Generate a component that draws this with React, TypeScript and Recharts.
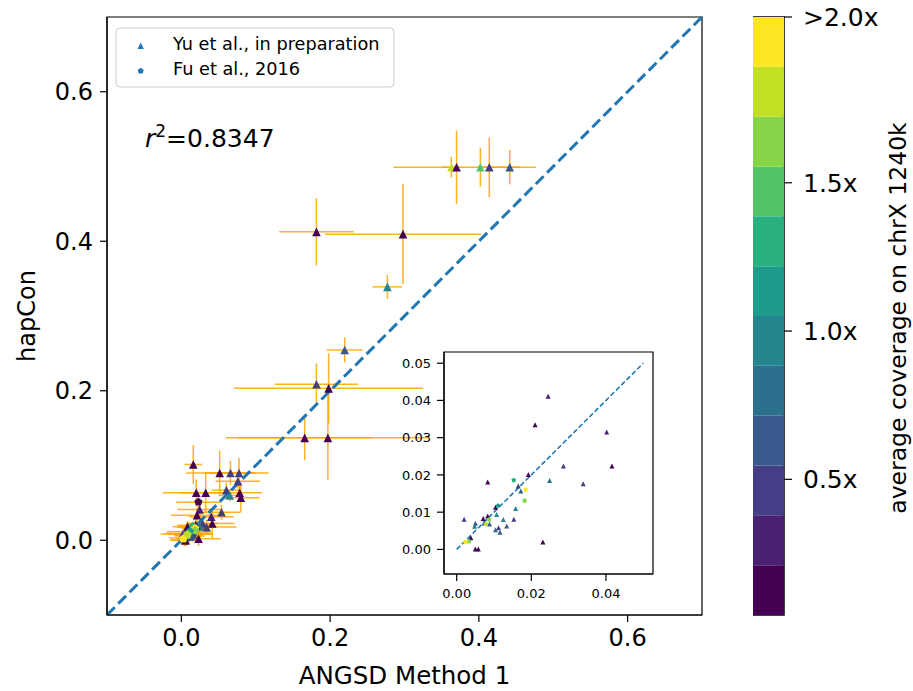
import React from 'react';
import {
  ScatterChart, Scatter, XAxis, YAxis, ErrorBar, ReferenceLine, ReferenceArea,
  BarChart, Bar,
} from 'recharts';

const FONT = 'DejaVu Sans';

// ---------- data ----------
const sampleX = [
  0.363, 0.370, 0.402, 0.414, 0.4415, 0.1816, 0.298, 0.277, 0.2196, 0.1816, 0.198, 0.1658, 0.197,
  0.016, 0.0515, 0.066, 0.0775, 0.076, 0.0605, 0.065, 0.0784, 0.080, 0.020, 0.0327, 0.0229, 0.054,
  0.0245, 0.021, 0.0402, 0.0286, 0.0416, 0.0339, 0.0249, 0.0192, 0.0083, 0.0153, 0.0165, 0.0172, 0.0185,
  0.0182, 0.0158, 0.0111, 0.0104, 0.0107, 0.0125, 0.0153, 0.0071, 0.0083, 0.0087, 0.0020, 0.0050, 0.0048,
  0.0073, 0.0078, 0.0088, 0.0104, 0.0112, 0.0116, 0.0134, 0.0038, 0.0033, 0.0023, 0.0050, 0.0058, 0.0231,
];
const sampleY = [
  0.499, 0.499, 0.499, 0.499, 0.499, 0.4126, 0.4095, 0.339, 0.2546, 0.2086, 0.2032, 0.137, 0.137,
  0.1014, 0.090, 0.090, 0.090, 0.079, 0.067, 0.060, 0.0635, 0.057, 0.0635, 0.0635, 0.051, 0.0375,
  0.0411, 0.0335, 0.0315, 0.0224, 0.0224, 0.0176, 0.0185, 0.0201, 0.0181, 0.0186, 0.0170, 0.0157, 0.0160,
  0.0131, 0.0110, 0.0117, 0.0113, 0.0094, 0.0080, 0.0081, 0.0083, 0.0090, 0.0080, 0.0081, 0.0070, 0.0062,
  0.0071, 0.0068, 0.0068, 0.0053, 0.0058, 0.0046, 0.0063, 0.0031, 0.0021, 0.0020, 0.0001, 0.0001, 0.0020,
];
const xError = [
  0.012, 0.085, 0.004, 0.005, 0.035, 0.05, 0.105, 0.02, 0.024, 0.056, 0.127, 0.09, 0.137,
  0.012, 0.045, 0.035, 0.04, 0.03, 0.02, 0.015, 0.03, 0.025, 0.045, 0.035, 0.03, 0.025,
  0.03, 0.035, 0.03, 0.02, 0.03, 0.04, 0.02, 0.025, 0.02, 0.01, 0.02, 0.015, 0.005,
  0.006, 0.01, 0.008, 0.03, 0.01, 0.01, 0.025, 0.035, 0.03, 0.006, 0.02, 0.015, 0.01,
  0.012, 0.005, 0.015, 0.012, 0.02, 0.015, 0.015, 0.02, 0.006, 0.005, 0.02, 0.02, 0.03,
];
const yError = [
  0.014, 0.049, 0.026, 0.04, 0.023, 0.045, 0.067, 0.016, 0.017, 0.028, 0.047, 0.03, 0.056,
  0.026, 0.03, 0.016, 0.02, 0.01, 0.01, 0.008, 0.012, 0.02, 0.018, 0.027, 0.01, 0.01,
  0.012, 0.01, 0.01, 0.008, 0.02, 0.01, 0.008, 0.01, 0.008, 0.005, 0.008, 0.006, 0.003,
  0.003, 0.005, 0.004, 0.012, 0.005, 0.005, 0.01, 0.015, 0.012, 0.003, 0.01, 0.006, 0.005,
  0.005, 0.003, 0.006, 0.005, 0.008, 0.006, 0.006, 0.01, 0.003, 0.003, 0.008, 0.008, 0.01,
];
const coverage = [
  1.81, 0.12, 1.47, 0.46, 0.63, 0.12, 0.12, 0.97, 0.63, 0.46, 0.12, 0.12, 0.12,
  0.12, 0.12, 0.46, 0.46, 0.46, 0.46, 0.97, 0.12, 0.12, 0.12, 0.12, 0.12, 0.46,
  0.29, 0.12, 0.29, 0.46, 0.12, 0.46, 0.80, 0.12, 0.12, 1.30, 0.46, 0.63, 2.40,
  1.64, 0.97, 1.13, 0.12, 0.97, 0.97, 0.46, 0.12, 0.12, 1.64, 0.46, 0.63, 0.97,
  0.80, 1.81, 0.63, 0.80, 0.46, 0.63, 0.63, 0.12, 1.64, 2.40, 0.12, 0.12, 0.12,
];
const source = [
  'Yu', 'Yu', 'Yu', 'Yu', 'Yu', 'Yu', 'Yu', 'Yu', 'Yu', 'Yu', 'Yu', 'Yu', 'Yu',
  'Yu', 'Yu', 'Yu', 'Yu', 'Yu', 'Yu', 'Yu', 'Yu', 'Yu', 'Yu', 'Yu', 'Fu', 'Yu',
  'Yu', 'Yu', 'Yu', 'Yu', 'Yu', 'Yu', 'Yu', 'Yu', 'Yu', 'Fu', 'Yu', 'Yu', 'Fu',
  'Fu', 'Yu', 'Fu', 'Yu', 'Yu', 'Yu', 'Yu', 'Yu', 'Yu', 'Fu', 'Yu', 'Yu', 'Yu',
  'Yu', 'Fu', 'Yu', 'Yu', 'Yu', 'Yu', 'Yu', 'Yu', 'Fu', 'Fu', 'Yu', 'Yu', 'Yu',
];

const legendItems = [
  { key: 'Yu', label: 'Yu et al., in preparation' },
  { key: 'Fu', label: 'Fu et al., 2016' },
];
const mainTicks = [0, 0.2, 0.4, 0.6];
const mainDomain = [-0.1, 0.7];
const insetXTicks = [0, 0.02, 0.04];
const insetYTicks = [0, 0.01, 0.02, 0.03, 0.04, 0.05];
const insetXDomain = [-0.0034, 0.0526];
const insetYDomain = [-0.0066, 0.053];
const insetDiagonal = [0, 0.05];
const viridis12 = [
  '#440154', '#482173', '#433e85', '#38598c', '#2d708e', '#25858e',
  '#1e9b8a', '#2ab07f', '#52c569', '#86d549', '#c2df23', '#fde725',
];
const cbMin = 0.0425;
const cbMax = 2.059;
const colorbarTicks = [0.5, 1.0, 1.5, 2.059];
const colorbarTickLabels = ['0.5x', '1.0x', '1.5x', '>2.0x'];
const rSquared = '0.8347';

// ---------- helpers ----------
const colorFor = (c: number) => {
  const w = (cbMax - cbMin) / viridis12.length;
  const k = Math.min(viridis12.length - 1, Math.max(0, Math.floor((c - cbMin) / w)));
  return viridis12[k];
};

const points = sampleX.map((x, i) => ({
  x, y: sampleY[i], xe: xError[i], ye: yError[i], cov: coverage[i], src: source[i],
}));
// the inset shows the samples whose estimates both lie below 0.05
const insetPoints = points.filter((p) => p.x <= insetDiagonal[1] && p.y <= insetDiagonal[1]);

function markerPath(src: string, cx: number, cy: number, r: number) {
  if (src === 'Yu') return `M${cx},${cy - r}L${cx - r},${cy + r}L${cx + r},${cy + r}Z`;
  let d = '';
  for (let i = 0; i < 5; i++) {
    const a = -Math.PI / 2 + (i * 2 * Math.PI) / 5;
    d += (i ? 'L' : 'M') + (cx + r * Math.cos(a)) + ',' + (cy + r * Math.sin(a));
  }
  return d + 'Z';
}

const makeMarker = (src: string, r: number) => (props: any) => {
  const { cx, cy } = props;
  if (cx == null || cy == null || isNaN(cx) || isNaN(cy)) return <g />;
  const cov = props.payload?.cov ?? props.cov;
  return <path d={markerPath(src, cx, cy, r)} fill={colorFor(cov)} />;
};

const noShape = () => <g />;

const fmt1 = (v: number) => v.toFixed(1);
const fmt2 = (v: number) => v.toFixed(2);

export default function App() {
  const cbRow: any = { name: 'cb' };
  viridis12.forEach((_, k) => { cbRow[`b${k}`] = 1; });

  const mainTick = { fontSize: 24, fill: '#000', fontFamily: FONT };
  const insetTick = { fontSize: 13, fill: '#000', fontFamily: FONT };
  const black = { stroke: '#000', strokeWidth: 1.2 };

  return (
    <div style={{ position: 'absolute', left: 0, top: 0, width: 913, height: 691, background: '#fff', fontFamily: FONT }}>
      {/* main chart */}
      <div style={{ position: 'absolute', left: 0, top: 0 }}>
        <ScatterChart width={913} height={691} margin={{ top: 17, right: 211, bottom: 0, left: 0 }}>
          <XAxis type="number" dataKey="x" domain={mainDomain} ticks={mainTicks} tickFormatter={fmt1}
            height={76} tickSize={7} tickMargin={7} tick={mainTick} axisLine={black} tickLine={black} allowDataOverflow />
          <YAxis type="number" dataKey="y" domain={mainDomain} ticks={mainTicks} tickFormatter={fmt1}
            width={107} tickSize={7} tickMargin={7} tick={mainTick} axisLine={black} tickLine={black} allowDataOverflow />
          <Scatter data={points} shape={noShape} isAnimationActive={false} legendType="none">
            <ErrorBar dataKey="xe" direction="x" width={0} stroke="#ffa500" strokeWidth={1.5} strokeOpacity={0.85} />
            <ErrorBar dataKey="ye" direction="y" width={0} stroke="#ffa500" strokeWidth={1.5} strokeOpacity={0.85} />
          </Scatter>
          <ReferenceLine segment={[{ x: mainDomain[0], y: mainDomain[0] }, { x: mainDomain[1], y: mainDomain[1] }]}
            stroke="#1f77b4" strokeWidth={3} strokeDasharray="11 5" ifOverflow="visible" />
          {legendItems.map((it) => (
            <Scatter key={it.key} name={it.label} data={points.filter((p) => p.src === it.key)}
              shape={makeMarker(it.key, 4.3)} isAnimationActive={false} />
          ))}
          <ReferenceArea x1={mainDomain[0]} x2={mainDomain[1]} y1={mainDomain[0]} y2={mainDomain[1]}
            fill="none" stroke="#000" strokeWidth={1.2} ifOverflow="visible" />
        </ScatterChart>
      </div>

      {/* inset background */}
      <div style={{ position: 'absolute', left: 444, top: 352, width: 209, height: 222, background: '#fff' }} />

      {/* inset chart */}
      <div style={{ position: 'absolute', left: 400, top: 340 }}>
        <ScatterChart width={260} height={270} margin={{ top: 12, right: 7, bottom: 0, left: 0 }}>
          <XAxis type="number" dataKey="x" domain={insetXDomain} ticks={insetXTicks} tickFormatter={fmt2}
            height={36} tickSize={7} tickMargin={8} tick={insetTick} axisLine={black} tickLine={black} allowDataOverflow />
          <YAxis type="number" dataKey="y" domain={insetYDomain} ticks={insetYTicks} tickFormatter={fmt2}
            width={44} tickSize={7} tickMargin={6} tick={insetTick} axisLine={black} tickLine={black} allowDataOverflow />
          <ReferenceLine segment={[{ x: insetDiagonal[0], y: insetDiagonal[0] }, { x: insetDiagonal[1], y: insetDiagonal[1] }]}
            stroke="#1f77b4" strokeWidth={1.6} strokeDasharray="5 2.5" ifOverflow="visible" />
          {legendItems.map((it) => (
            <Scatter key={it.key} name={it.label} data={insetPoints.filter((p) => p.src === it.key)}
              shape={makeMarker(it.key, 2.5)} isAnimationActive={false} />
          ))}
          <ReferenceArea x1={insetXDomain[0]} x2={insetXDomain[1]} y1={insetYDomain[0]} y2={insetYDomain[1]}
            fill="none" stroke="#000" strokeWidth={1.2} ifOverflow="visible" />
        </ScatterChart>
      </div>

      {/* colorbar */}
      <div style={{ position: 'absolute', left: 753, top: 0 }}>
        <BarChart width={160} height={691} data={[cbRow]} margin={{ top: 17, right: 0, bottom: 76, left: 0 }}
          barCategoryGap={0} barGap={0}>
          <XAxis dataKey="name" type="category" hide />
          <YAxis yAxisId="bands" type="number" domain={[0, viridis12.length]} hide allowDataOverflow />
          <YAxis yAxisId="cov" orientation="right" type="number" domain={[cbMin, cbMax]} ticks={colorbarTicks}
            tickFormatter={(v: number) => colorbarTickLabels[colorbarTicks.indexOf(v)] ?? ''}
            width={129} tickSize={8} tickMargin={11} tick={{ fontSize: 25, fill: '#000', fontFamily: FONT }}
            axisLine={false} tickLine={black} allowDataOverflow />
          {viridis12.map((c, k) => (
            <Bar key={k} dataKey={`b${k}`} stackId="cb" yAxisId="bands" fill={c} isAnimationActive={false} />
          ))}
          <ReferenceArea yAxisId="bands" y1={0} y2={viridis12.length} fill="none" stroke="#000" strokeWidth={1.5}
            ifOverflow="visible" />
        </BarChart>
      </div>

      {/* texts and legend */}
      <svg width={913} height={691} style={{ position: 'absolute', left: 0, top: 0, pointerEvents: 'none' }}
        fontFamily={FONT}>
        <text x={27} y={316} fontSize={24} textAnchor="middle" dominantBaseline="central"
          transform="rotate(-90 27 316)" fill="#000">hapCon</text>
        <text x={404.5} y={684} fontSize={24.5} textAnchor="middle" fill="#000">ANGSD Method 1</text>
        <text x={898} y={318} fontSize={23.5} textAnchor="middle" dominantBaseline="central"
          transform="rotate(-90 898 318)" fill="#000">average coverage on chrX 1240k</text>
        <text x={145} y={147} fontSize={25} fill="#000">
          <tspan fontStyle="italic">r</tspan>
          <tspan fontSize={17} dy={-10}>2</tspan>
          <tspan dy={10}>={rSquared}</tspan>
        </text>
        <rect x={116} y={28} width={278} height={59} rx={4} fill="#fff" fillOpacity={0.8} stroke="#cccccc" strokeWidth={1} />
        {legendItems.map((it, i) => (
          <g key={it.key}>
            <path d={markerPath(it.key, 140.7, 45.7 + i * 25.3, 3.2)} fill="#1f77b4" />
            <text x={173} y={43.5 + i * 25} fontSize={17.7} dominantBaseline="central" fill="#000">{it.label}</text>
          </g>
        ))}
      </svg>
    </div>
  );
}
